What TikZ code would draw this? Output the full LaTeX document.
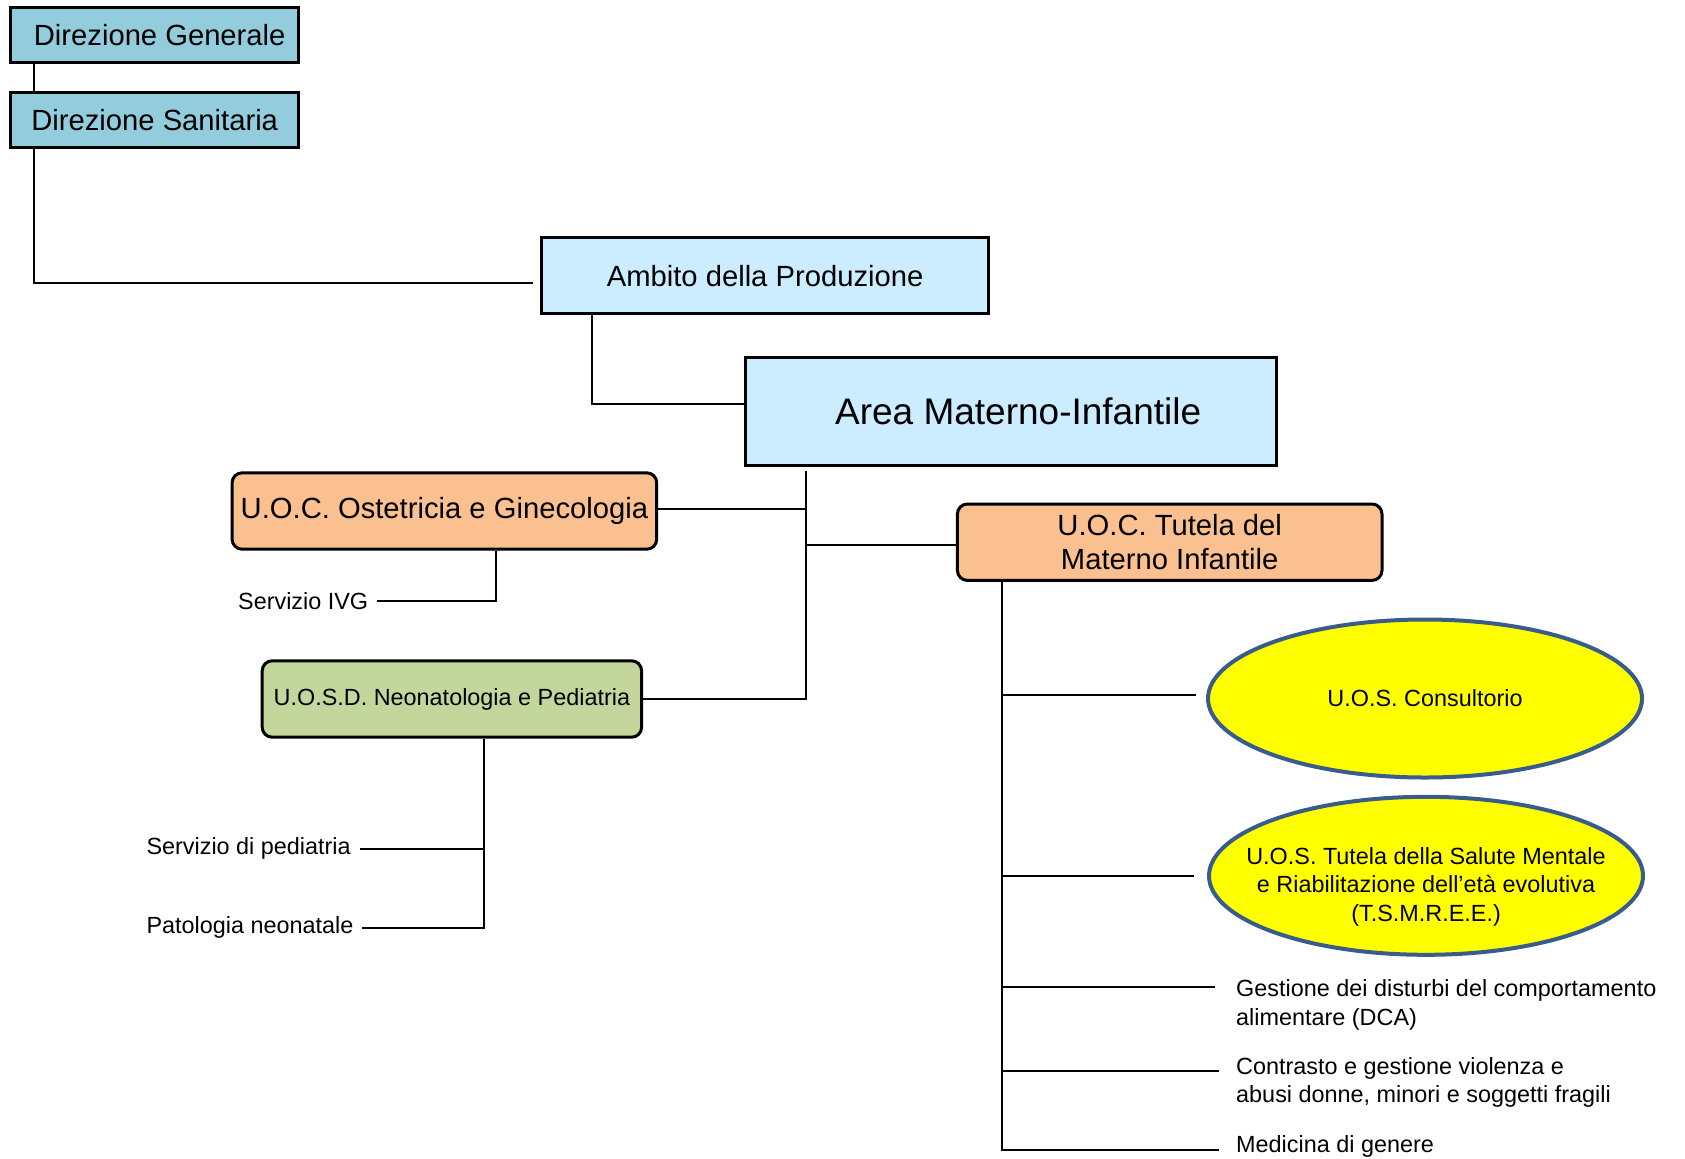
\documentclass[tikz,border=0pt]{standalone}
\usepackage{fontspec}
\setmainfont{Liberation Sans}
\usetikzlibrary{calc,shapes.geometric}

\definecolor{dirblue}{RGB}{147,205,221}
\definecolor{areablue}{RGB}{204,236,255}
\definecolor{uocorange}{RGB}{250,192,144}
\definecolor{uosdgreen}{RGB}{195,214,155}
\definecolor{uosyellow}{RGB}{255,255,0}
\definecolor{uosborder}{RGB}{56,93,138}

\tikzset{
	bigfont/.style={font=\fontsize{14.6}{17.2}\selectfont},
	smallfont/.style={font=\fontsize{11.7}{14.2}\selectfont},
	dirbox/.style={draw, line width=1.5pt, fill=dirblue, inner sep=0pt, minimum width=144pt, minimum height=27.4pt, bigfont},
	areabox/.style={draw, line width=1.5pt, fill=areablue, inner sep=0pt, minimum height=38.2pt, bigfont},
	uocbox/.style={draw, line width=1.5pt, fill=uocorange, rounded corners=5pt, inner sep=0pt, minimum width=212.3pt, minimum height=38.2pt, bigfont, align=center},
	uosdbox/.style={draw, line width=1.5pt, fill=uosdgreen, rounded corners=5pt, inner sep=0pt, minimum width=189.7pt, minimum height=38.2pt, smallfont},
	uosoval/.style={ellipse, draw=uosborder, line width=2pt, fill=uosyellow, inner sep=-25pt, minimum width=217pt, minimum height=79pt, smallfont, align=center},
	leaf/.style={inner xsep=4.3pt, inner ysep=0pt, smallfont, align=left},
	link/.style={line width=1pt}
}

\begin{document}
\begin{tikzpicture}[x=0.5pt, y=-0.5pt]
			%%%%% START %%%%%
			\useasboundingbox (0, 0) rectangle (1685, 1158);
			
			\node[dirbox] (dg) at (154.7, 34.9) {\hspace{5pt}Direzione Generale};
			\node[dirbox] (ds) at (154.7, 119.8) {Direzione Sanitaria};
			
			\node[areabox, minimum width=223.5pt] (amb) at (765.1, 275.6) {Ambito della Produzione};
			\node[areabox, minimum width=265.4pt, minimum height=53.8pt, font=\fontsize{18.5}{22}\selectfont] (area) at (1011.2, 411.6) {\hspace{7pt}Area Materno-Infantile};
			
			\node[uocbox] (ost) at (444.4, 511) {U.O.C. Ostetricia e Ginecologia};
			\node[uosdbox] (uosd) at (451.9, 699) {U.O.S.D. Neonatologia e Pediatria};
			\node[uocbox] (tut) at (1169.7, 542.2) {U.O.C. Tutela del\\Materno Infantile};
			
			\node[leaf, anchor=east] (ivg) at (377.2, 600.7) {Servizio IVG};
			\node[leaf, anchor=west] (ped) at (137.5, 848.5) {Servizio di pediatria};
			\node[leaf, anchor=west] (pat) at (137.5, 927.5) {Patologia neonatale};
			
			\node[uosoval] (cons) at (1425, 698.5) {U.O.S. Consultorio};
			\node[uosoval, label={[smallfont, align=center, yshift=-5.5pt]center:U.O.S. Tutela della Salute Mentale\\e Riabilitazione dell’età evolutiva\\(T.S.M.R.E.E.)}] (tsm) at (1426, 875.8) {};
			
			\node[leaf, anchor=north west, inner xsep=0pt] (dca) at (1235.8, 979.5) {Gestione dei disturbi del comportamento\\alimentare (DCA)};
			\node[leaf, anchor=north west, inner xsep=0pt] (viol) at (1235.8, 1057) {Contrasto e gestione violenza e\\abusi donne, minori e soggetti fragili};
			\node[leaf, anchor=north west, inner xsep=0pt] (med) at (1235.8, 1135.5) {Medicina di genere};
			
			% connectors
			\draw[link] ([xshift=12.4pt]dg.south west) -- ([xshift=12.4pt]ds.north west);
			\draw[link] ([xshift=12.4pt]ds.south west) |- ([xshift=-3.8pt, yshift=-3.5pt]amb.west);
			\draw[link] ([xshift=25.8pt]amb.south west) |- ([yshift=3.8pt]area.west);
			
			\coordinate (atop) at ([xshift=30.6pt, yshift=-2pt]area.south west);
			\draw[link] (atop) -- (atop |- uosd.east) -- (uosd.east);
			\draw[link] ([yshift=1pt]ost.east) -- ([yshift=1pt]ost.east -| atop);
			\draw[link] ([yshift=-1.5pt]tut.west -| atop) -- ([yshift=-1.5pt]tut.west);
			
			\draw[link] ([xshift=132.7pt]ost.south west) |- (ivg.east);
			\coordinate (ubot) at ([xshift=111.8pt]uosd.south west);
			\draw[link] (ubot) |- (pat.east);
			\draw[link] (ped.east) -- (ped.east -| ubot);
			
			\coordinate (ttop) at ([xshift=23.1pt]tut.south west);
			\coordinate (dcaend) at (1215.4, 986.5);
			\coordinate (violend) at (1218.6, 1071.4);
			\coordinate (medend) at (1218.6, 1149.8);
			\draw[link] (ttop) -- (ttop |- medend) -- (medend);
			\draw[link] ([yshift=2pt]cons.west -| ttop) -- ([xshift=-5pt, yshift=2pt]cons.west);
			\draw[link] (ttop |- tsm.west) -- ([xshift=-6.5pt]tsm.west);
			\draw[link] (ttop |- dcaend) -- (dcaend);
			\draw[link] (ttop |- violend) -- (violend);
			
			%%%%% END %%%%%
\end{tikzpicture}
\end{document}
